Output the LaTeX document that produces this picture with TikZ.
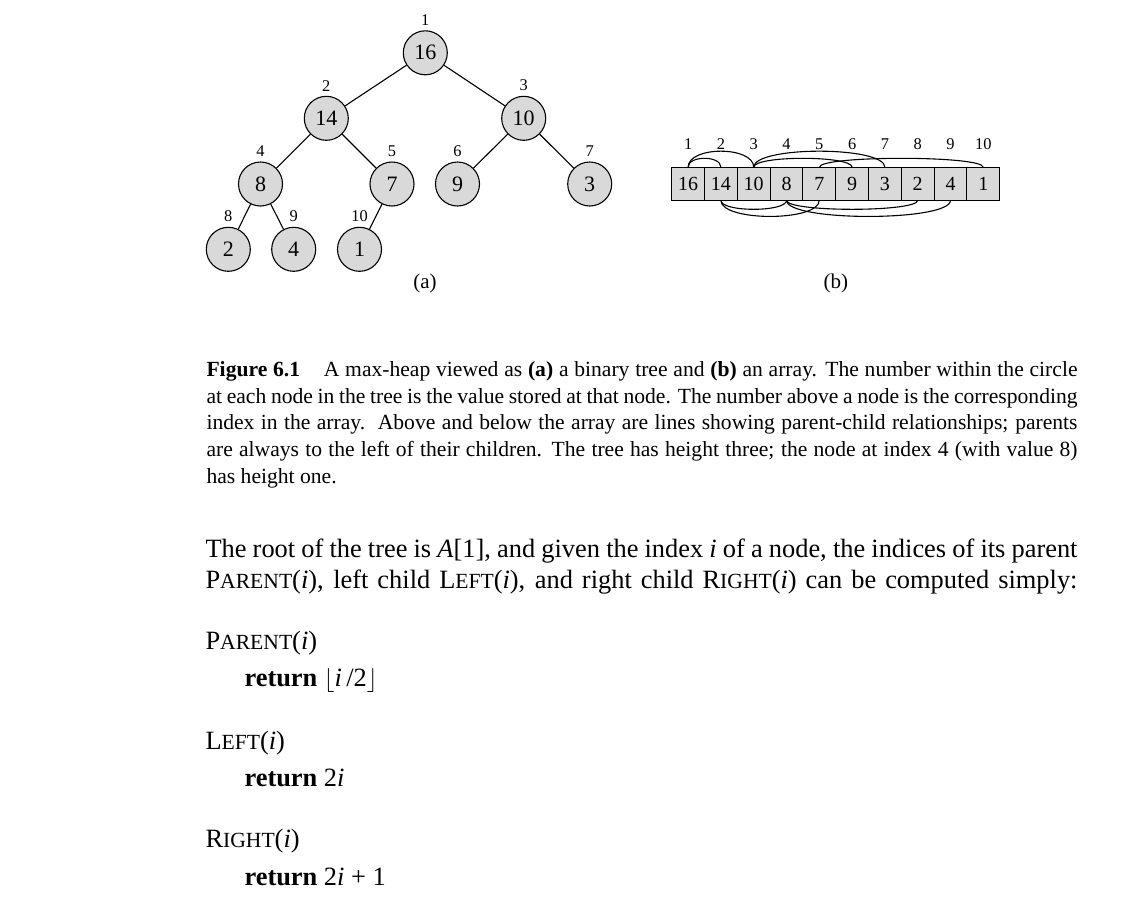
\documentclass[tikz,border=0pt]{standalone}
\usepackage{fontspec}
\setmainfont{Liberation Serif}
\usepackage{tikz}
\usetikzlibrary{positioning}
\definecolor{heapgray}{gray}{0.85}
\newcommand\procname[2]{#1{\fontsize{10.8}{12}\selectfont #2}}

\begin{document}
\begin{tikzpicture}[x=0.5pt,y=-0.5pt,line width=0.55pt,
  vertex/.style={circle,draw,fill=heapgray,minimum size=22pt,inner sep=0pt,font=\fontsize{11}{13}\selectfont},
  cell/.style={draw,fill=heapgray,minimum width=16.4pt,minimum height=16.5pt,inner sep=0pt,outer sep=0pt,font=\fontsize{10}{12}\selectfont},
  idx/.style={font=\fontsize{8.2}{10}\selectfont},
  every label/.style={idx},label distance=-1.3pt,
  sublabel/.style={font=\fontsize{10.5}{12}\selectfont},
  capline/.style={anchor=base west,inner sep=0pt,font=\fontsize{10.8}{13}\selectfont},
  bodyline/.style={anchor=base west,inner sep=0pt,font=\fontsize{13.2}{16}\selectfont}]
  \useasboundingbox[fill=white] (0,0) rectangle (1141,911);

  % (a) the tree
  \node[vertex,label=above:1]  (n1)  at (425.3,52.8)  {16};
  \node[vertex,label=above:2]  (n2)  at (326.3,118.3) {14};
  \node[vertex,label=above:3]  (n3)  at (523.7,118.3) {10};
  \node[vertex,label=above:4]  (n4)  at (260.5,184)   {8};
  \node[vertex,label=above:5]  (n5)  at (392,184)     {7};
  \node[vertex,label=above:6]  (n6)  at (457.5,184)   {9};
  \node[vertex,label=above:7]  (n7)  at (589.7,184)   {3};
  \node[vertex,label=above:8]  (n8)  at (228.3,249.3) {2};
  \node[vertex,label=above:9]  (n9)  at (293.7,249.3) {4};
  \node[vertex,label=above:10] (n10) at (359.5,249.3) {1};
  \foreach \p/\c in {1/2,1/3,2/4,2/5,3/6,3/7,4/8,4/9,5/10}
    \draw (n\p) -- (n\c);
  \node[sublabel] (suba) at (425,283) {(a)};

  % (b) the array
  \foreach \v [count=\i] in {16,14,10,8,7,9,3,2,4,1}
    \node[cell,label={[label distance=5.3pt]above:\i}] (c\i) at ({671.7+32.8*\i-16.4},183.8) {\v};
  \foreach \p/\c/\h in {1/2/12,1/3/21.5,3/6/12,3/7/21.5,5/10/12}
    \draw (c\p.north) .. controls +(0,-\h) and +(0,-\h) .. (c\c.north);
  \foreach \p/\c/\h in {2/4/12,2/5/21.5,4/8/12,4/9/21.5}
    \draw (c\p.south) .. controls +(0,\h) and +(0,\h) .. (c\c.south);
  \node[sublabel] (subb) at (835.9,283) {(b)};

  % caption
  \node[capline] (cap1) at (206,376.5) {\makebox[435.5pt][s]{\textbf{Figure 6.1}\hspace{1.1em}A max-heap viewed as \textbf{(a)} a binary tree and \textbf{(b)} an array. The number within the circle}};
  \node[capline] (cap2) at (206,403.1) {\makebox[435.5pt][s]{at each node in the tree is the value stored at that node. The number above a node is the corresponding}};
  \node[capline] (cap3) at (206,429.8) {\makebox[435.5pt][s]{index in the array.\ \ Above and below the array are lines showing parent-child relationships; parents}};
  \node[capline] (cap4) at (206,456.5) {\makebox[435.5pt][s]{are always to the left of their children. The tree has height three; the node at index 4 (with value 8)}};
  \node[capline] (cap5) at (206,483.1) {has height one.};

  % text and procedures
  \node[bodyline] (txt1) at (205,557.5) {\makebox[436pt][s]{The root of the tree is \textit{A}[1], and given the index \textit{i} of a node, the indices of its parent}};
  \node[bodyline] (txt2) at (205,588.5) {\makebox[436pt][s]{\procname{P}{ARENT}(\textit{i}), left child \procname{L}{EFT}(\textit{i}), and right child \procname{R}{IGHT}(\textit{i}) can be computed simply:}};
  \node[bodyline] (par)  at (205,649.5) {\procname{P}{ARENT}(\textit{i})};
  \node[bodyline] (ret1) at (244,686.5) {\textbf{return} $\lfloor$\textit{i}\,/2$\rfloor$};
  \node[bodyline] (lft)  at (205,749.5) {\procname{L}{EFT}(\textit{i})};
  \node[bodyline] (ret2) at (244,786.5) {\textbf{return} 2\textit{i}};
  \node[bodyline] (rgt)  at (205,847.5) {\procname{R}{IGHT}(\textit{i})};
  \node[bodyline] (ret3) at (244,885)   {\textbf{return} 2\textit{i}\hspace{0.25em}+\hspace{0.25em}1};
\end{tikzpicture}
\end{document}
